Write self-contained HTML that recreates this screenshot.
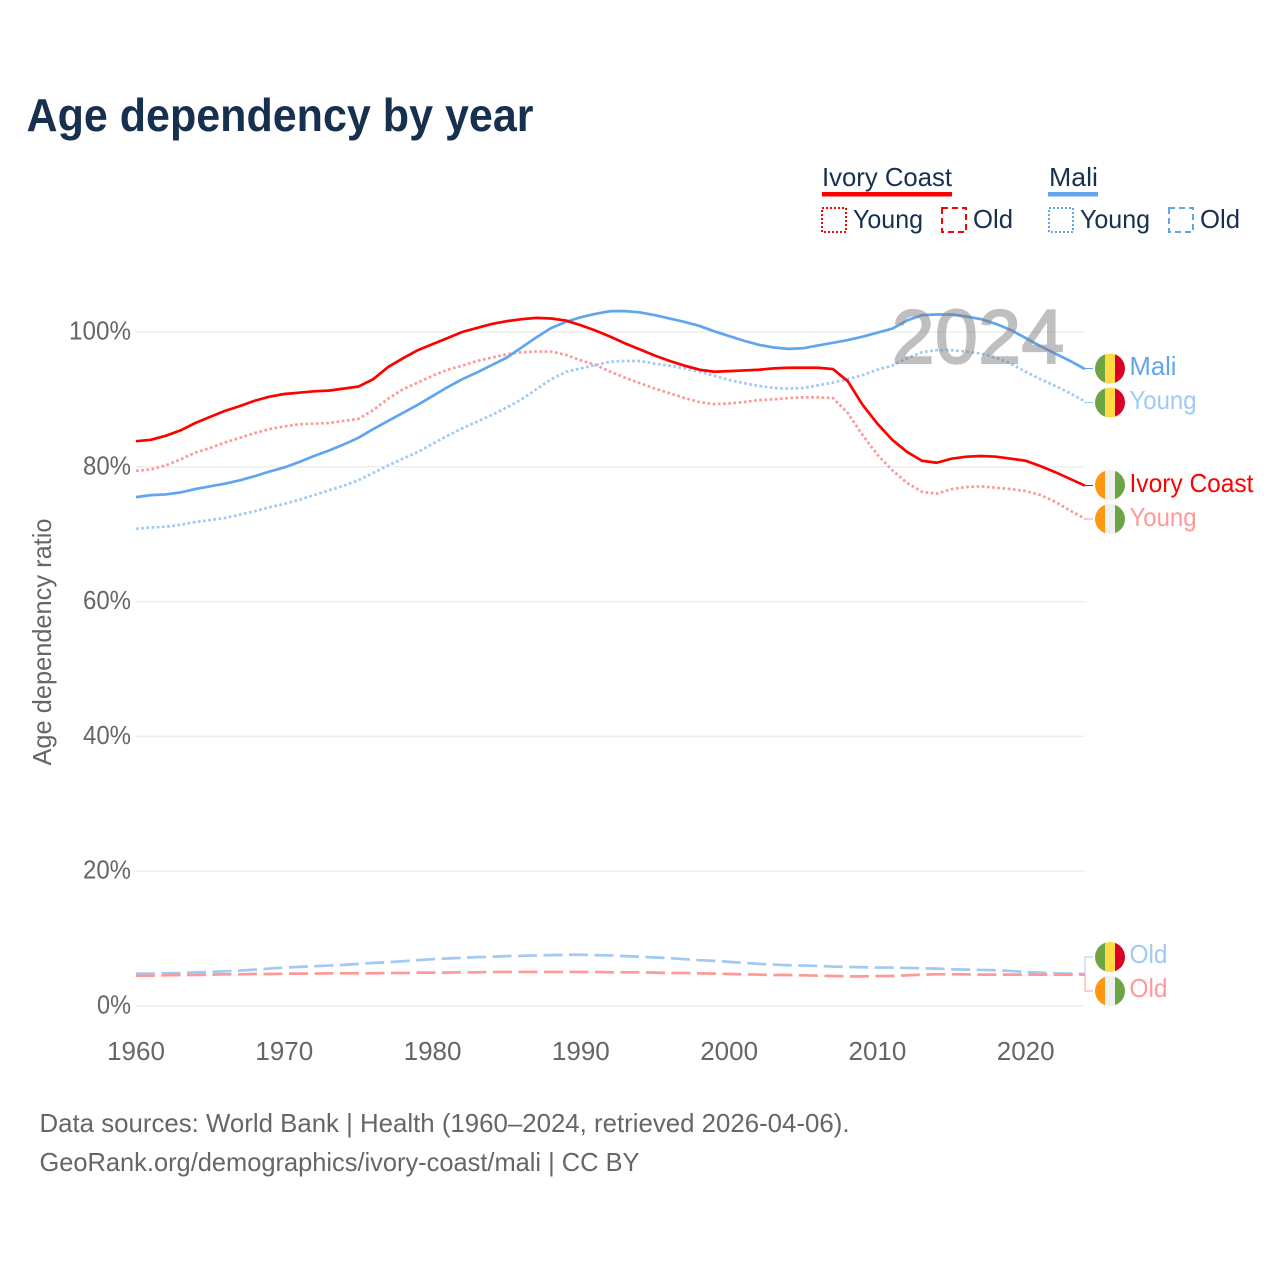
<!DOCTYPE html>
<html lang="en">
<head>
<meta charset="utf-8">
<title>Age dependency by year</title>
<style>
html,body{margin:0;padding:0;background:#fff;}
svg{display:block;}
text{font-family:"Liberation Sans",sans-serif;}
</style>
</head>
<body>
<svg id="chart" xmlns="http://www.w3.org/2000/svg" width="1280" height="1280" viewBox="0 0 1280 1280">
  <rect x="0" y="0" width="1280" height="1280" fill="#ffffff"/>
  <text x="26.5" y="131" font-size="46" font-weight="700" fill="#18304f" textLength="507" lengthAdjust="spacingAndGlyphs">Age dependency by year</text>

  <g font-size="26" fill="#18304f">
    <g>
      <text x="822" y="186" textLength="130" lengthAdjust="spacingAndGlyphs">Ivory Coast</text>
      <rect x="822" y="192" width="130" height="4.5" fill="#ff0000"/>
    </g>
    <g>
      <rect x="822" y="208" width="24" height="24" fill="none" stroke="#ff0000" stroke-width="2" stroke-dasharray="2 2"/>
      <text x="853" y="228" textLength="70" lengthAdjust="spacingAndGlyphs">Young</text>
    </g>
    <g>
      <rect x="942" y="208" width="24" height="24" fill="none" stroke="#ff0000" stroke-width="2" stroke-dasharray="6 4"/>
      <text x="973" y="228" textLength="40" lengthAdjust="spacingAndGlyphs">Old</text>
    </g>
    <g>
      <text x="1049" y="186" textLength="49" lengthAdjust="spacingAndGlyphs">Mali</text>
      <rect x="1048" y="192" width="50" height="4.5" fill="#60a5ee"/>
    </g>
    <g>
      <rect x="1049" y="208" width="24" height="24" fill="none" stroke="#60a5ee" stroke-width="2" stroke-dasharray="2 2"/>
      <text x="1080" y="228" textLength="70" lengthAdjust="spacingAndGlyphs">Young</text>
    </g>
    <g>
      <rect x="1169" y="208" width="24" height="24" fill="none" stroke="#60a5ee" stroke-width="2" stroke-dasharray="6 4"/>
      <text x="1200" y="228" textLength="40" lengthAdjust="spacingAndGlyphs">Old</text>
    </g>
  </g>

  <g id="grid"></g>
  <g id="yticks" font-size="26" fill="#666666" text-anchor="end"></g>
  <g id="xticks" font-size="26" fill="#666666" text-anchor="middle"></g>
  <text transform="translate(51 642) rotate(-90)" font-size="26" fill="#666666" text-anchor="middle" textLength="247" lengthAdjust="spacingAndGlyphs">Age dependency ratio</text>

  <g id="lines"></g>
  <text x="978" y="363" font-size="76" fill="#808080" stroke="#808080" stroke-width="2.2" opacity="0.5" text-anchor="middle" textLength="172" lengthAdjust="spacing">2024</text>
  <g id="connectors"></g>

  <defs>
    <clipPath id="flag-clip-1"><circle cx="1110" cy="368.5" r="15"/></clipPath>
    <clipPath id="flag-clip-2"><circle cx="1110" cy="402.5" r="15"/></clipPath>
    <clipPath id="flag-clip-3"><circle cx="1110" cy="485" r="15"/></clipPath>
    <clipPath id="flag-clip-4"><circle cx="1110" cy="519" r="15"/></clipPath>
    <clipPath id="flag-clip-5"><circle cx="1110" cy="957" r="15"/></clipPath>
    <clipPath id="flag-clip-6"><circle cx="1110" cy="991" r="15"/></clipPath>
  </defs>

  <g clip-path="url(#flag-clip-1)">
    <rect x="1095" y="353" width="10" height="31" fill="#6da544"/><rect x="1105" y="353" width="10" height="31" fill="#ffda44"/><rect x="1115" y="353" width="10" height="31" fill="#d80027"/>
  </g>
  <g clip-path="url(#flag-clip-2)">
    <rect x="1095" y="387" width="10" height="31" fill="#6da544"/><rect x="1105" y="387" width="10" height="31" fill="#ffda44"/><rect x="1115" y="387" width="10" height="31" fill="#d80027"/>
  </g>
  <g clip-path="url(#flag-clip-3)">
    <rect x="1095" y="470" width="10" height="31" fill="#ff9811"/><rect x="1105" y="470" width="10" height="31" fill="#f0f0f0"/><rect x="1115" y="470" width="10" height="31" fill="#6da544"/>
  </g>
  <g clip-path="url(#flag-clip-4)">
    <rect x="1095" y="504" width="10" height="31" fill="#ff9811"/><rect x="1105" y="504" width="10" height="31" fill="#f0f0f0"/><rect x="1115" y="504" width="10" height="31" fill="#6da544"/>
  </g>
  <g clip-path="url(#flag-clip-5)">
    <rect x="1095" y="942" width="10" height="31" fill="#6da544"/><rect x="1105" y="942" width="10" height="31" fill="#ffda44"/><rect x="1115" y="942" width="10" height="31" fill="#d80027"/>
  </g>
  <g clip-path="url(#flag-clip-6)">
    <rect x="1095" y="976" width="10" height="31" fill="#ff9811"/><rect x="1105" y="976" width="10" height="31" fill="#f0f0f0"/><rect x="1115" y="976" width="10" height="31" fill="#6da544"/>
  </g>

  <g font-size="26">
    <text x="1129.5" y="375" fill="#60a5ee" textLength="47" lengthAdjust="spacingAndGlyphs">Mali</text>
    <text x="1129.5" y="409" fill="#a0c9f5" textLength="67" lengthAdjust="spacingAndGlyphs">Young</text>
    <text x="1129.5" y="492" fill="#ff0000" textLength="124" lengthAdjust="spacingAndGlyphs">Ivory Coast</text>
    <text x="1129.5" y="526" fill="#ff9999" textLength="67" lengthAdjust="spacingAndGlyphs">Young</text>
    <text x="1129.5" y="963" fill="#a0c9f5" textLength="38" lengthAdjust="spacingAndGlyphs">Old</text>
    <text x="1129.5" y="997" fill="#ff9999" textLength="38" lengthAdjust="spacingAndGlyphs">Old</text>
  </g>

  <g font-size="26" fill="#666666">
    <text x="39.5" y="1132" textLength="810" lengthAdjust="spacingAndGlyphs">Data sources: World Bank | Health (1960–2024, retrieved 2026-04-06).</text>
    <text x="39.5" y="1171" textLength="600" lengthAdjust="spacingAndGlyphs">GeoRank.org/demographics/ivory-coast/mali | CC BY</text>
  </g>
</svg>

<script>
const startYear = 1960;
const endYear = 2024;
const xTickYears = [1960, 1970, 1980, 1990, 2000, 2010, 2020];
const yTickValues = [0, 20, 40, 60, 80, 100];

const ivoryTotal = [83.8,84.0,84.6,85.4,86.5,87.4,88.3,89.0,89.8,90.4,90.8,91.0,91.2,91.3,91.6,91.9,93.0,94.8,96.1,97.3,98.2,99.1,100.0,100.6,101.2,101.6,101.9,102.1,102.0,101.7,101.0,100.2,99.3,98.3,97.4,96.5,95.7,95.0,94.4,94.1,94.2,94.3,94.4,94.6,94.7,94.7,94.7,94.5,92.7,89.2,86.4,84.0,82.2,80.9,80.6,81.2,81.5,81.6,81.5,81.2,80.9,80.1,79.2,78.2,77.2];
const ivoryYoung = [79.4,79.6,80.2,81.1,82.1,82.8,83.6,84.3,85.0,85.6,86.0,86.3,86.4,86.5,86.8,87.1,88.4,90.1,91.5,92.5,93.5,94.4,95.0,95.7,96.2,96.7,97.0,97.1,97.1,96.6,95.8,95.1,94.1,93.2,92.4,91.6,90.9,90.2,89.6,89.3,89.4,89.6,89.9,90.0,90.2,90.3,90.3,90.2,88.0,84.7,81.8,79.5,77.6,76.3,76.0,76.7,77.0,77.1,76.9,76.7,76.4,75.8,74.8,73.5,72.3];
const ivoryOld = [4.5,4.5,4.55,4.6,4.6,4.65,4.7,4.7,4.75,4.75,4.8,4.8,4.8,4.85,4.85,4.85,4.85,4.9,4.9,4.95,4.95,4.95,5.0,5.0,5.05,5.05,5.05,5.05,5.05,5.05,5.05,5.05,5.0,5.0,5.0,4.95,4.9,4.9,4.85,4.8,4.75,4.7,4.65,4.6,4.6,4.55,4.5,4.45,4.4,4.4,4.45,4.45,4.55,4.65,4.7,4.7,4.7,4.65,4.65,4.65,4.65,4.65,4.65,4.65,4.65];
const maliTotal = [75.5,75.8,75.9,76.2,76.7,77.1,77.5,78.0,78.6,79.3,79.9,80.7,81.6,82.4,83.3,84.3,85.6,86.8,88.0,89.2,90.5,91.8,93.0,94.0,95.1,96.2,97.7,99.2,100.6,101.5,102.2,102.7,103.1,103.1,102.9,102.5,102.0,101.5,100.9,100.1,99.4,98.7,98.1,97.7,97.5,97.6,98.0,98.4,98.8,99.3,99.9,100.5,101.7,102.5,102.6,102.6,102.3,101.9,101.2,100.3,99.1,97.9,96.8,95.7,94.5];
const maliYoung = [70.8,71.0,71.1,71.4,71.8,72.1,72.4,72.9,73.4,74.0,74.5,75.1,75.8,76.5,77.2,78.0,79.1,80.2,81.2,82.2,83.4,84.6,85.7,86.7,87.7,88.8,90.0,91.5,93.0,94.1,94.6,95.1,95.6,95.7,95.7,95.3,95.0,94.6,94.1,93.5,92.9,92.4,92.0,91.7,91.6,91.7,92.1,92.5,93.0,93.6,94.4,95.0,96.1,97.0,97.3,97.3,97.1,96.8,96.2,95.3,94.1,93.0,92.0,90.9,89.7];
const maliOld = [4.8,4.8,4.85,4.9,5.0,5.05,5.15,5.25,5.4,5.55,5.7,5.8,5.9,6.0,6.1,6.25,6.4,6.5,6.65,6.8,6.95,7.05,7.15,7.25,7.3,7.4,7.45,7.5,7.55,7.6,7.6,7.55,7.5,7.4,7.3,7.2,7.1,6.95,6.8,6.7,6.55,6.4,6.25,6.15,6.05,6.0,5.95,5.85,5.8,5.75,5.7,5.7,5.65,5.6,5.55,5.45,5.4,5.35,5.3,5.2,5.05,4.95,4.85,4.8,4.75];

const NS = 'http://www.w3.org/2000/svg';
function x(year) { return 136 + (year - startYear) * (1085 - 136) / (endYear - startYear); }
function y(value) { return 1006 - value * 6.74; }

const gridGroup = document.getElementById('grid');
const yTickGroup = document.getElementById('yticks');
yTickValues.forEach(function (v) {
  const line = document.createElementNS(NS, 'line');
  
  
  line.setAttribute('x1', 136);
  line.setAttribute('x2', 1085);
  line.setAttribute('y1', y(v));
  line.setAttribute('y2', y(v));
  line.setAttribute('stroke', '#eeeeee');
  line.setAttribute('stroke-width', '1.5');
  gridGroup.appendChild(line);

  const label = document.createElementNS(NS, 'text');
  const str = v + '%';
  
  
  label.setAttribute('x', 131);
  label.setAttribute('y', y(v) + 7.5);
  label.setAttribute('textLength', 14 * str.length + 6);
  label.setAttribute('lengthAdjust', 'spacingAndGlyphs');
  label.textContent = str;
  yTickGroup.appendChild(label);
});

const xTickGroup = document.getElementById('xticks');
xTickYears.forEach(function (yr) {
  const label = document.createElementNS(NS, 'text');
  
  
  label.setAttribute('x', x(yr));
  label.setAttribute('y', 1060);
  label.textContent = String(yr);
  xTickGroup.appendChild(label);
});

function pathFor(values) {
  return values.map(function (v, i) {
    return (i ? 'L' : 'M') + x(startYear + i).toFixed(2) + ' ' + y(v).toFixed(2);
  }).join(' ');
}

const lineGroup = document.getElementById('lines');
function drawLine(name, values, color, dash) {
  const p = document.createElementNS(NS, 'path');
  
  
  p.setAttribute('d', pathFor(values));
  p.setAttribute('fill', 'none');
  p.setAttribute('stroke', color);
  p.setAttribute('stroke-width', '2.7');
  p.setAttribute('stroke-linejoin', 'round');
  if (dash) p.setAttribute('stroke-dasharray', dash);
  lineGroup.appendChild(p);
}
drawLine('line-mali-old', maliOld, '#a0c9f5', '19 6.5');
drawLine('line-ivory-coast-old', ivoryOld, '#ff9999', '19 6.5');
drawLine('line-ivory-coast-young', ivoryYoung, '#ff9999', '2.7 2.5');
drawLine('line-mali-young', maliYoung, '#a0c9f5', '2.7 2.5');
drawLine('line-mali-total', maliTotal, '#60a5ee', null);
drawLine('line-ivory-coast-total', ivoryTotal, '#ff0000', null);

const connectorGroup = document.getElementById('connectors');
function drawConnector(name, values, flagY, color) {
  const endY = y(values[values.length - 1]);
  const p = document.createElementNS(NS, 'path');
  
  
  p.setAttribute('d', 'M' + x(endYear) + ' ' + endY.toFixed(2) + ' V' + flagY + ' H1093');
  p.setAttribute('fill', 'none');
  p.setAttribute('stroke', color);
  p.setAttribute('stroke-width', '1');
  connectorGroup.appendChild(p);
}
drawConnector('connector-mali-total', maliTotal, 368.5, '#60a5ee');
drawConnector('connector-mali-young', maliYoung, 402.5, '#a0c9f5');
drawConnector('connector-ivory-coast-total', ivoryTotal, 485.5, '#ff0000');
drawConnector('connector-ivory-coast-young', ivoryYoung, 519, '#ff9999');
drawConnector('connector-mali-old', maliOld, 957, '#a0c9f5');
drawConnector('connector-ivory-coast-old', ivoryOld, 991, '#ff9999');
</script>
</body>
</html>
